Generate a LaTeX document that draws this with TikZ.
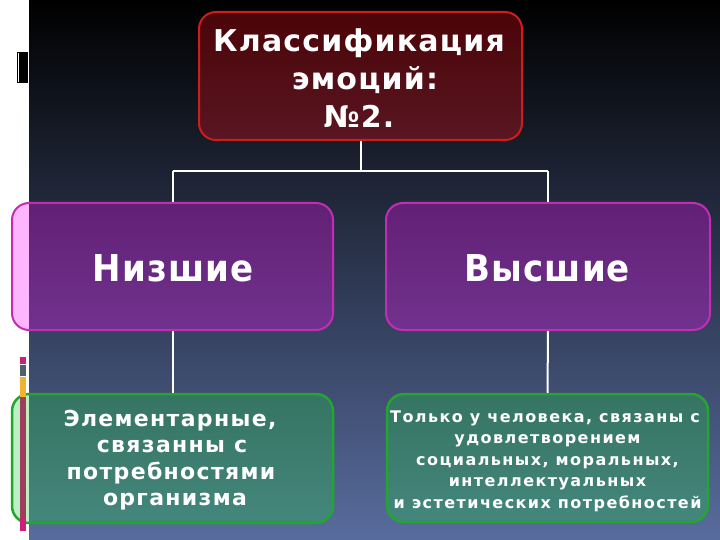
\documentclass[tikz,border=0pt]{standalone}
\usepackage{fontspec}
\setmainfont{DejaVu Sans}
\newfontfamily\lsTop[LetterSpace=4]{DejaVu Sans Bold}
\newfontfamily\lsMid[LetterSpace=3]{DejaVu Sans Bold}
\newfontfamily\lsLow[LetterSpace=6]{DejaVu Sans Bold}
\newfontfamily\lsSmall[LetterSpace=9]{DejaVu Sans Bold}
\definecolor{bgbot}{RGB}{88,108,158}
\definecolor{redfill}{RGB}{245,10,20}
\definecolor{redline}{RGB}{205,30,30}
\definecolor{magfill}{RGB}{250,15,250}
\definecolor{magline}{RGB}{195,45,180}
\definecolor{grnfill}{RGB}{30,205,60}
\definecolor{grnline}{RGB}{35,165,50}
\definecolor{stripmag}{RGB}{205,30,120}
\definecolor{stripgray}{RGB}{80,95,105}
\definecolor{stripyel}{RGB}{240,180,50}
\definecolor{stripmar}{RGB}{160,60,92}
\tikzset{
  box/.style={rounded corners=17pt, line width=2pt, inner sep=0pt, fill opacity=0.3, text opacity=1},
  redbox/.style={box, draw=redline, fill=redfill},
  magbox/.style={box, draw=magline, fill=magfill},
  grnbox/.style={box, draw=grnline, fill=grnfill, line width=2.5pt},
  conn/.style={draw=white, line width=2pt},
  lbl/.style={text=white, align=center, inner sep=0pt, anchor=base},
  toptxt/.style={lbl, font=\lsTop\fontsize{30}{38}\selectfont},
  midtxt/.style={lbl, font=\lsMid\fontsize{37}{40}\selectfont},
  lowtxt/.style={lbl, font=\lsLow\fontsize{22}{26}\selectfont},
  smalltxt/.style={lbl, font=\lsSmall\fontsize{16}{21.5}\selectfont}
}
\begin{document}
\begin{tikzpicture}[x=1pt,y=-1pt]
\useasboundingbox (0,0) rectangle (720,540);
\fill[white] (0,0) rectangle (720,540);
\shade[top color=black, bottom color=bgbot] (29,0) rectangle (720,540);
% left decoration
\fill[black] (17,52) rectangle (28,83);
\draw[white, line width=0.8pt] (18.6,53) -- (18.6,82);
% connector coordinates
\coordinate (j) at (360.5,171);
\coordinate (jl) at (172.5,171);
\coordinate (jr) at (548,171);
% boxes
\node[redbox, minimum width=323pt, minimum height=128pt] (top) at (360.5,76) {};
\node[magbox, minimum width=321pt, minimum height=127pt] (low) at (172.5,266.5) {};
\node[magbox, minimum width=324pt, minimum height=127pt] (high) at (548,266.5) {};
\node[grnbox, minimum width=321pt, minimum height=129pt] (lowd) at (172.5,458.5) {};
\node[grnbox, minimum width=321pt, minimum height=128pt] (highd) at (547.5,458) {};
% left stripes (in front of the boxes)
\fill[stripmag] (20,357) rectangle (26,364);
\fill[stripgray] (20,365) rectangle (26,376);
\fill[stripyel] (20,377) rectangle (26,397);
\fill[stripmar] (20,397) rectangle (26,518);
\fill[stripmag] (20,518) rectangle (26,531);
% connectors
\draw[conn] (top.south) -- (j);
\draw[conn] (jl) -- (jr);
\draw[conn] (jl) -- (low.north);
\draw[conn] (jr) -- (high.north);
\draw[conn] (low.south) -- (lowd.north);
\draw[conn] (high.south) -- (highd.north);
% labels
\node[toptxt] (t1) at (359,52) {Классификация};
\node[toptxt] (t2) at (365,90) {эмоций:};
\node[toptxt] (t3) at (359,128) {№2.};
\node[midtxt] (tl) at (173,281) {\scalebox{0.92}[1]{Низшие}};
\node[midtxt] (th) at (547.5,281) {\scalebox{0.92}[1]{Высшие}};
\node[lowtxt] (b1) at (170,426) {Элементарные,};
\node[lowtxt] (b2) at (172,452.5) {связанны с};
\node[lowtxt] (b3) at (171,479) {потребностями};
\node[lowtxt] (b4) at (175,505.5) {организма};
\node[smalltxt] (r1) at (545,422) {Только у человека, связаны с};
\node[smalltxt] (r2) at (547.5,443.5) {удовлетворением};
\node[smalltxt] (r3) at (547.5,465) {социальных, моральных,};
\node[smalltxt] (r4) at (547.5,486.5) {интеллектуальных};
\node[smalltxt] (r5) at (547.5,508) {и эстетических потребностей};
\end{tikzpicture}
\end{document}
